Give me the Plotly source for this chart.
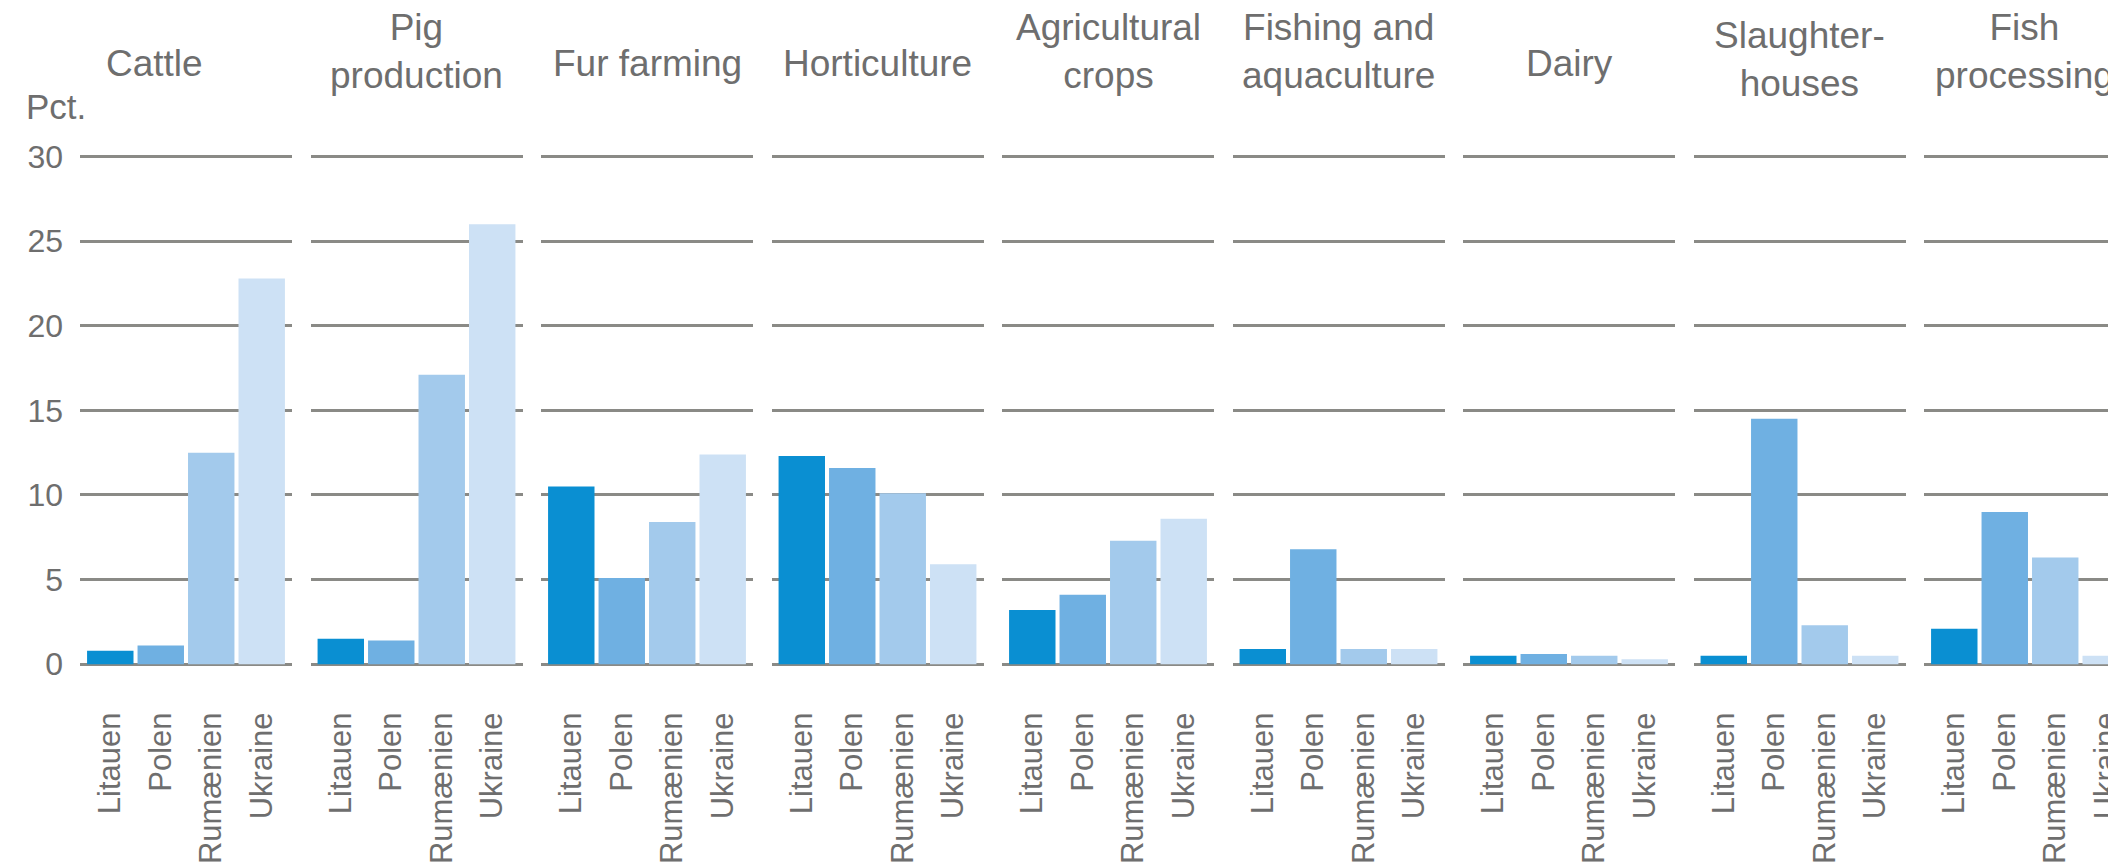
import plotly.graph_objects as go

# ---- data ----
sectors = ["Cattle", "Pig<br>production", "Fur farming", "Horticulture",
           "Agricultural<br>crops", "Fishing and<br>aquaculture", "Dairy",
           "Slaughter-<br>houses", "Fish<br>processing"]
countries = ["Litauen", "Polen", "Rumænien", "Ukraine"]
litauen  = [0.8, 1.5, 10.5, 12.3, 3.2, 0.9, 0.5, 0.5, 2.1]
polen    = [1.1, 1.4, 5.1, 11.6, 4.1, 6.8, 0.6, 14.5, 9.0]
rumaenien = [12.5, 17.1, 8.4, 10.1, 7.3, 0.9, 0.5, 2.3, 6.3]
ukraine  = [22.8, 26.0, 12.4, 5.9, 8.6, 0.9, 0.3, 0.5, 0.5]
y_ticks = [0, 5, 10, 15, 20, 25, 30]
y_unit = "Pct."

# ---- style / layout ----
W, H = 2116, 864
colors = ["#0a8fd2", "#6fb0e2", "#a3caec", "#cde1f5"]
text_col = "#6e6e6e"
grid_col = "#8a8a86"
font_family = "Liberation Sans, Arial, sans-serif"

x_first = 72.0
pitch = 230.5
pw = 212.0
xr = [-0.6, 3.6]
units_per_px = (xr[1] - xr[0]) / pw

y0_px, y30_px = 666.0, 150.0
px_per_unit = (y0_px - y30_px) / 30.0
yr = [-0.3, 31.0]
dom_bottom = (H - (y0_px - yr[0] * px_per_unit)) / H
dom_top = (H - (y0_px - yr[1] * px_per_unit)) / H

fig = go.Figure()
layout = dict(
    width=W, height=H,
    margin=dict(l=0, r=0, t=0, b=0),
    paper_bgcolor="white", plot_bgcolor="white",
    showlegend=False, bargap=0.08,
    font=dict(family=font_family, color=text_col),
)
annotations = []

for i, sec in enumerate(sectors):
    vals = [litauen[i], polen[i], rumaenien[i], ukraine[i]]
    xa = "x" if i == 0 else f"x{i+1}"
    ya = "y" if i == 0 else f"y{i+1}"
    x0 = x_first + i * pitch
    cropped = x0 + pw > W
    x1 = min(x0 + pw, W)
    rng = [xr[0], xr[0] + (x1 - x0) * units_per_px]
    fig.add_trace(go.Bar(
        x=countries, y=vals, xaxis=xa, yaxis=ya,
        marker=dict(color=colors, line=dict(width=0)),
        hoverinfo="x+y",
    ))
    xkey = "xaxis" if i == 0 else f"xaxis{i+1}"
    ykey = "yaxis" if i == 0 else f"yaxis{i+1}"
    layout[xkey] = dict(
        domain=[x0 / W, x1 / W], anchor=ya, range=rng,
        type="category", showgrid=False, zeroline=False, showline=False,
        ticks="", tickangle=-90, ticklabelstandoff=36,
        tickfont=dict(size=31, color=text_col, family=font_family),
    )
    layout[ykey] = dict(
        domain=[dom_bottom, dom_top], anchor=xa, range=yr,
        tickvals=y_ticks, showgrid=True, gridcolor=grid_col, gridwidth=3,
        zeroline=False, showline=False, ticks="",
        showticklabels=(i == 0), ticklabelstandoff=16,
        tickfont=dict(size=32, color=text_col, family=font_family),
    )
    two_line = "<br>" in sec
    if two_line:
        yc = 51 if sec.startswith("Slaughter") else 43
    else:
        yc = 55
    if cropped:
        xpos, xanc = (W - 8) / W, "right"
    else:
        xc = (x0 + x1) / 2 - (32 if i == 0 else 0)
        xpos, xanc = xc / W, "center"
    annotations.append(dict(
        text=sec, xref="paper", yref="paper",
        x=xpos, y=1 - yc / H,
        xanchor=xanc, yanchor="middle", showarrow=False, align="center",
        font=dict(size=37, color=text_col, family=font_family),
    ))

annotations.append(dict(
    text=y_unit, xref="paper", yref="paper", x=16 / W, y=1 - 99 / H,
    xanchor="left", yanchor="middle", showarrow=False,
    font=dict(size=35, color=text_col, family=font_family),
))
layout["annotations"] = annotations
fig.update_layout(**layout)
fig.write_html("out.html")
